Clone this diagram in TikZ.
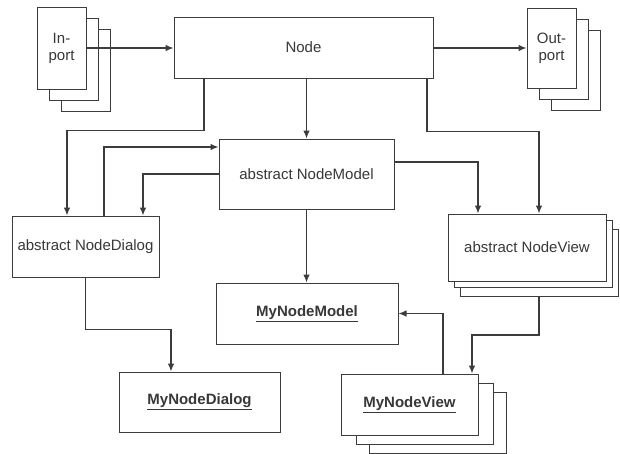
\documentclass[tikz,border=0pt]{standalone}
\usepackage{fontspec}
\setmainfont{Liberation Sans}
\usetikzlibrary{arrows.meta}
\definecolor{ln}{HTML}{3C3C3C}
\definecolor{tx}{HTML}{383838}
\tikzset{
  box/.style={draw=ln, line width=1pt, fill=white, inner sep=0pt, text=tx,
    font=\fontsize{15}{17}\selectfont, align=center},
  arr/.style={draw=ln, line width=1.1pt, -{Latex[length=8pt,width=6.5pt]}},
}
\newcommand{\ul}[1]{\underline{\textbf{#1}}}
\begin{document}
\begin{tikzpicture}[x=1pt,y=-1pt]
\useasboundingbox[fill=white] (0,0) rectangle (620,453);
% Inport stack
\node[box, minimum width=49pt, minimum height=82pt] (inport3) at (85.5,70) {};
\node[box, minimum width=49pt, minimum height=82pt] (inport2) at (73.5,59) {};
\node[box, minimum width=49pt, minimum height=82pt] (inport) at (61.5,48) {In-\\port};
% Outport stack
\node[box, minimum width=49pt, minimum height=80pt] (outport3) at (575.5,70) {};
\node[box, minimum width=49pt, minimum height=80pt] (outport2) at (563.5,59) {};
\node[box, minimum width=49pt, minimum height=80pt] (outport) at (551.5,48) {Out-\\port};
% Node
\node[box, minimum width=259pt, minimum height=61pt] (node) at (303.5,47.5) {Node};
% Model
\node[box, minimum width=175pt, minimum height=70pt] (model) at (306.5,174) {abstract NodeModel};
% Dialog
\node[box, minimum width=147pt, minimum height=61pt] (dialog) at (85.5,246.5) {abstract NodeDialog};
% View stack
\node[box, minimum width=158pt, minimum height=67pt] (view3) at (539,263) {};
\node[box, minimum width=158pt, minimum height=67pt] (view2) at (533,254) {};
\node[box, minimum width=158pt, minimum height=67pt] (view) at (527,247.5) {abstract NodeView};
% MyNodeModel
\node[box, minimum width=182pt, minimum height=61pt] (mymodel) at (307,313.5) {\ul{MyNodeModel}};
% MyNodeDialog
\node[box, minimum width=161pt, minimum height=60pt] (mydialog) at (199.5,402) {\ul{MyNodeDialog}};
% MyNodeView stack
\node[box, minimum width=137pt, minimum height=61pt] (myview3) at (437.5,422.5) {};
\node[box, minimum width=137pt, minimum height=61pt] (myview2) at (424.5,413.5) {};
\node[box, minimum width=137pt, minimum height=61pt] (myview) at (409.5,404.5) {\ul{MyNodeView}};
% Connectors
\draw[arr] (inport.east) -- (inport.east -| node.west);
\draw[arr] (node.east |- outport.west) -- (outport.west);
\draw[arr] (node.south -| model.north) -- (model.north);
\draw[arr] ([xshift=-99.5]node.south) -- ++(0,52) -| ([xshift=-18.5]dialog.north);
\draw[arr] ([xshift=18.5]dialog.north) |- ([yshift=27]model.west);
\draw[arr] (model.west) -| ([xshift=57.5]dialog.north);
\draw[arr] ([xshift=123.5]node.south) -- ++(0,53) -| ([xshift=12]view.north);
\draw[arr] ([yshift=12]model.east) -| ([xshift=-49]view.north);
\draw[arr] (model.south) -- (model.south |- mymodel.north);
\draw[arr] (dialog.south) -- ++(0,52) -| ([xshift=-28.5]mydialog.north);
\draw[arr] (view3.south) -- ++(0,38) -| ([xshift=62.5]myview.north);
\draw[arr] ([xshift=33.5]myview.north) |- (mymodel.east);
\end{tikzpicture}
\end{document}
